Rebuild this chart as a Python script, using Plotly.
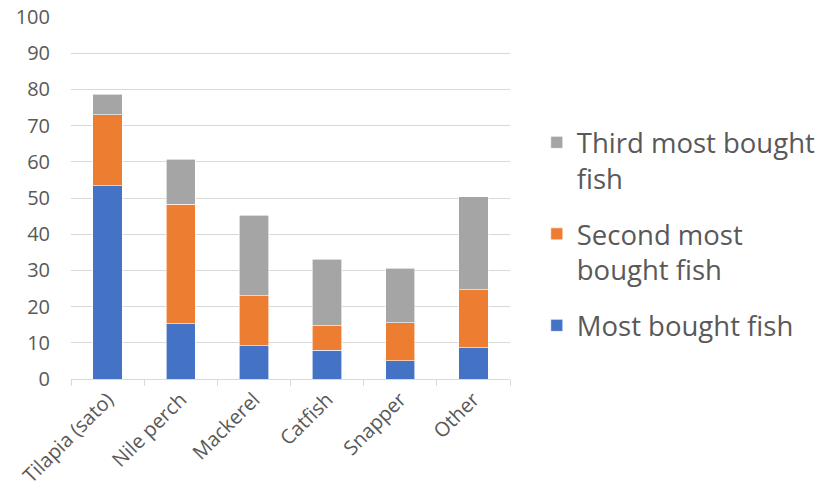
import plotly.graph_objects as go

categories = ["Tilapia (sato)", "Nile perch", "Mackerel", "Catfish", "Snapper", "Other"]
most_bought = [53.4, 15.2, 9.2, 8.0, 5.1, 8.7]
second_most = [19.6, 33.1, 13.8, 6.7, 10.5, 16.0]
third_most = [5.7, 12.4, 22.3, 18.4, 15.0, 25.7]
y_ticks = [0, 10, 20, 30, 40, 50, 60, 70, 80, 90, 100]

series = [
    ("Most bought fish", most_bought, "#4472C4", 3),
    ("Second most<br>bought fish", second_most, "#ED7D31", 2),
    ("Third most bought<br>fish", third_most, "#A5A5A5", 1),
]

fig = go.Figure()
for i, (name, vals, col, rank) in enumerate(series):
    fig.add_trace(go.Bar(
        x=categories, y=vals, name=name, legendgroup=f"g{i}", legendrank=rank,
        marker=dict(color=col, line=dict(color="white", width=0.6)),
    ))

font_col = "#595959"
fig.update_layout(
    barmode="stack",
    bargap=0.6,
    width=825, height=493,
    margin=dict(l=71, r=315, t=17, b=114, autoexpand=False),
    plot_bgcolor="white", paper_bgcolor="white",
    font=dict(family="Open Sans", color=font_col, size=20),
    legend=dict(
        x=1.061, xanchor="left", y=0.721, yanchor="top",
        traceorder="grouped", valign="top",
        font=dict(size=27.5, color=font_col),
        tracegroupgap=17,
    ),
)
fig.update_yaxes(
    range=[0, 100], tickvals=y_ticks, showgrid=True, gridcolor="#D9D9D9",
    gridwidth=1, zeroline=False, showline=False, ticks="",
    tickfont=dict(size=20, color=font_col), ticklabelstandoff=20,
    automargin=False,
)
fig.update_xaxes(
    showline=True, linecolor="#D9D9D9", linewidth=1,
    ticks="outside", tickson="boundaries", ticklen=6, tickcolor="#D9D9D9",
    tickangle=-45, tickfont=dict(size=20, color=font_col),
    automargin=False,
)
fig.write_html("out.html")
